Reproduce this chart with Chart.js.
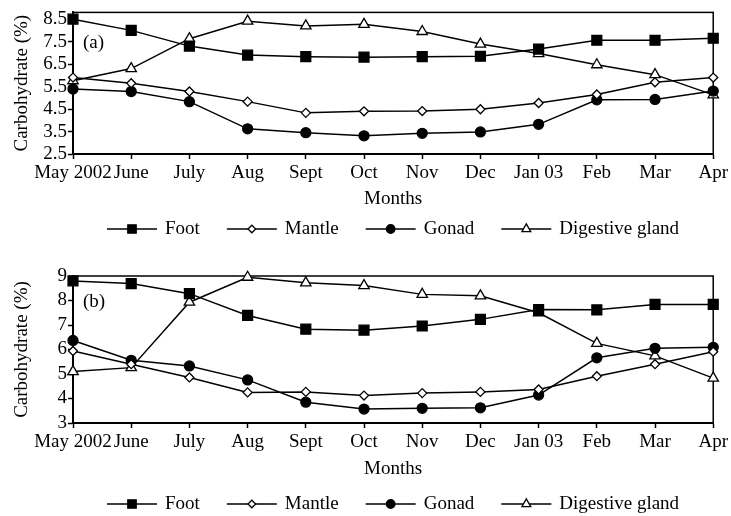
<!DOCTYPE html>
<html>
<head>
<meta charset="utf-8">
<script src="https://cdn.jsdelivr.net/npm/chart.js@4.4.0/dist/chart.umd.min.js"></script>
<style>
  body { margin: 0; background: #fff; }
  .panel { position: relative; width: 731px; height: 258px; }
</style>
</head>
<body>
<div class="panel"><canvas id="chartA"></canvas></div>
<div class="panel"><canvas id="chartB"></canvas></div>
<script>
// months on the x axis
const months = ['May 2002', 'June', 'July', 'Aug', 'Sept', 'Oct', 'Nov', 'Dec', 'Jan 03', 'Feb', 'Mar', 'Apr'];
const seriesNames = ['Foot', 'Mantle', 'Gonad', 'Digestive gland'];

// panel (a)
const footA = [8.5, 8.0, 7.3, 6.9, 6.83, 6.81, 6.83, 6.85, 7.17, 7.56, 7.56, 7.65];
const mantleA = [5.9, 5.65, 5.28, 4.83, 4.33, 4.4, 4.41, 4.49, 4.77, 5.15, 5.69, 5.9];
const gonadA = [5.39, 5.28, 4.83, 3.62, 3.45, 3.31, 3.42, 3.48, 3.82, 4.91, 4.93, 5.3];
const digestiveA = [5.76, 6.3, 7.63, 8.41, 8.2, 8.27, 7.95, 7.39, 6.97, 6.47, 6.03, 5.13];
const yTicksA = [2.5, 3.5, 4.5, 5.5, 6.5, 7.5, 8.5];

// panel (b)
const footB = [8.8, 8.69, 8.28, 7.39, 6.83, 6.79, 6.96, 7.23, 7.63, 7.62, 7.84, 7.84];
const mantleB = [5.94, 5.4, 4.86, 4.25, 4.27, 4.12, 4.22, 4.27, 4.37, 4.91, 5.4, 5.91];
const gonadB = [6.37, 5.56, 5.33, 4.76, 3.85, 3.57, 3.6, 3.62, 4.14, 5.66, 6.05, 6.09];
const digestiveB = [5.1, 5.26, 7.93, 8.95, 8.72, 8.61, 8.25, 8.19, 7.5, 6.25, 5.74, 4.83];
const yTicksB = [3, 4, 5, 6, 7, 8, 9];

Chart.defaults.font.family = "'Liberation Serif', 'Times New Roman', serif";
Chart.defaults.font.size = 19;
Chart.defaults.color = '#000';

const markers = [
  { pointStyle: 'rect', radius: 7, bg: '#000' },
  { pointStyle: 'rectRot', radius: 4.5, bg: '#fff' },
  { pointStyle: 'circle', radius: 5, bg: '#000' },
  { pointStyle: 'triangle', radius: 6, bg: '#fff' }
];

// box round the plot, the (a)/(b) label and the line+marker legend
const panelPlugin = {
  id: 'panel',
  beforeDatasetsDraw(chart) {
    const { ctx, chartArea: a } = chart;
    ctx.save();
    ctx.strokeStyle = '#000';
    ctx.lineWidth = 1.5;
    ctx.strokeRect(a.left, a.top, a.right - a.left, a.bottom - a.top);
    ctx.restore();
  },
  afterDraw(chart, args, opts) {
    const ctx = chart.ctx;
    const a = chart.chartArea;
    ctx.save();
    ctx.fillStyle = '#000';
    ctx.font = "19px 'Liberation Serif', serif";
    ctx.textBaseline = 'middle';
    ctx.fillText(opts.label, a.left + 10, a.top + opts.labelDy);

    let x = 107;
    const y = opts.legendY;
    seriesNames.forEach((name, i) => {
      const m = markers[i];
      ctx.strokeStyle = '#000';
      ctx.lineWidth = 1.5;
      ctx.beginPath();
      ctx.moveTo(x, y);
      ctx.lineTo(x + 50, y);
      ctx.stroke();
      ctx.fillStyle = m.bg;
      ctx.lineWidth = 1.3;
      Chart.helpers.drawPoint(ctx, { pointStyle: m.pointStyle, radius: m.radius * 0.85, borderWidth: 1.3, rotation: 0 }, x + 25, y);
      ctx.fillStyle = '#000';
      ctx.fillText(name, x + 58, y);
      x += 58 + ctx.measureText(name).width + 27;
    });
    ctx.restore();
  }
};

function makeChart(id, data, yMin, yMax, yTicks, padTop, padBottom, xHeight, label, labelDy, legendY) {
  const datasets = data.map((vals, i) => ({
    label: seriesNames[i],
    data: vals,
    borderColor: '#000',
    borderWidth: 1.5,
    backgroundColor: markers[i].bg,
    pointStyle: markers[i].pointStyle,
    pointRadius: markers[i].radius,
    pointBackgroundColor: markers[i].bg,
    pointBorderColor: '#000',
    pointBorderWidth: 1.3,
    tension: 0,
    clip: false
  }));

  return new Chart(document.getElementById(id), {
    type: 'line',
    data: { labels: months, datasets: datasets },
    options: {
      responsive: true,
      maintainAspectRatio: false,
      animation: false,
      layout: { padding: { top: padTop, bottom: padBottom, left: 0, right: 17 } },
      plugins: {
        legend: { display: false },
        tooltip: { enabled: false },
        panel: { label: label, labelDy: labelDy, legendY: legendY }
      },
      scales: {
        x: {
          offset: false,
          grid: { display: true, drawOnChartArea: false, tickLength: 5, color: '#000', tickWidth: 1.5 },
          border: { color: '#000', width: 2 },
          ticks: { autoSkip: false, maxRotation: 0, minRotation: 0, padding: 3 },
          title: { display: true, text: 'Months', padding: 0 },
          afterFit: s => { s.height = xHeight; }
        },
        y: {
          min: yMin,
          max: yMax,
          grid: { display: true, drawOnChartArea: false, tickLength: 5, color: '#000', tickWidth: 1.5 },
          border: { color: '#000', width: 2 },
          ticks: { padding: 1, autoSkip: false },
          afterBuildTicks: axis => { axis.ticks = yTicks.map(v => ({ value: v })); },
          title: { display: true, text: 'Carbohydrate (%)', padding: { top: 11 } },
          afterFit: s => { s.width = 73; }
        }
      }
    },
    plugins: [panelPlugin]
  });
}

makeChart('chartA', [footA, mantleA, gonadA, digestiveA], 2.5, 8.8, yTicksA, 6, 48, 56, '(a)', 31, 229);
makeChart('chartB', [footB, mantleB, gonadB, digestiveB], 3, 9, yTicksB, 18, 36, 57, '(b)', 26, 246);
</script>
</body>
</html>
